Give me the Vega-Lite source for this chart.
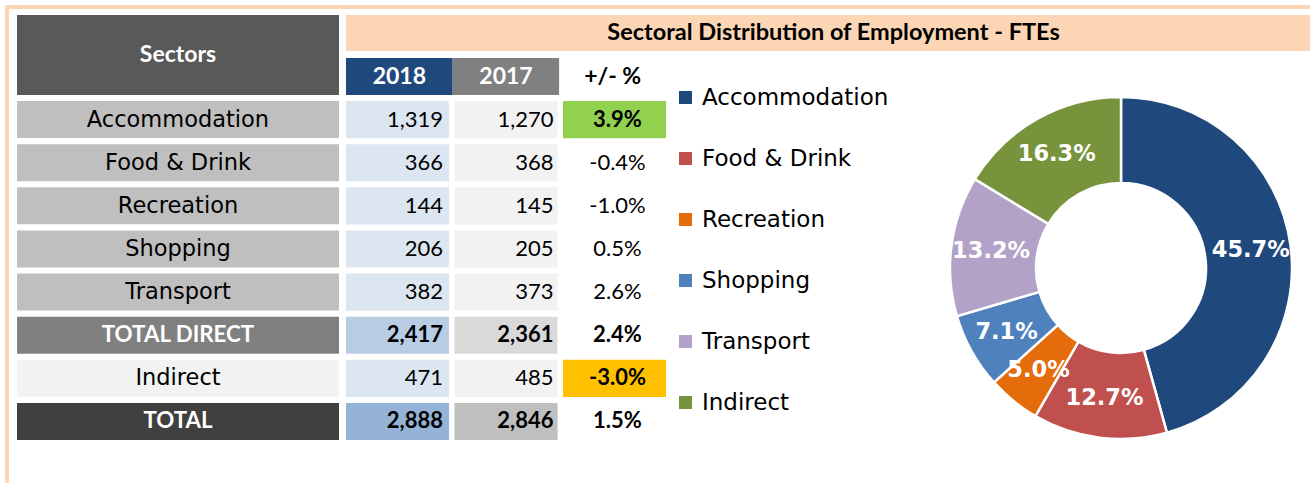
{
  "$schema": "https://vega.github.io/schema/vega-lite/v6.json",
  "background": "white",
  "padding": {"left": 5, "top": 5, "right": 0, "bottom": 0},
  "config": {
    "view": {"stroke": null},
    "font": "Lato",
    "locale": {"number": {"decimal": ".", "thousands": ",", "grouping": [3], "currency": ["$", ""], "minus": "-"}}
  },
  "datasets": {
    "rows": [
      {"sector": "Accommodation", "kind": "sector", "ord": 1, "v2018": 1319, "v2017": 1270, "change": 0.039, "share": 0.457},
      {"sector": "Food & Drink", "kind": "sector", "ord": 2, "v2018": 366, "v2017": 368, "change": -0.004, "share": 0.127},
      {"sector": "Recreation", "kind": "sector", "ord": 3, "v2018": 144, "v2017": 145, "change": -0.010, "share": 0.050},
      {"sector": "Shopping", "kind": "sector", "ord": 4, "v2018": 206, "v2017": 205, "change": 0.005, "share": 0.071},
      {"sector": "Transport", "kind": "sector", "ord": 5, "v2018": 382, "v2017": 373, "change": 0.026, "share": 0.132},
      {"sector": "TOTAL DIRECT", "kind": "direct", "ord": 6, "v2018": 2417, "v2017": 2361, "change": 0.024},
      {"sector": "Indirect", "kind": "indirect", "ord": 7, "v2018": 471, "v2017": 485, "change": -0.030, "share": 0.163},
      {"sector": "TOTAL", "kind": "total", "ord": 8, "v2018": 2888, "v2017": 2846, "change": 0.015}
    ],
    "headers": [
      {"col": "2018", "label": "2018"},
      {"col": "2017", "label": "2017"},
      {"col": "chg", "label": "+/- %"}
    ]
  },
  "spacing": 0,
  "resolve": {"scale": {"color": "independent"}, "legend": {"color": "independent"}},
  "vconcat": [
    {
      "width": 1305,
      "height": 4,
      "data": {"values": [{"part": "frame"}]},
      "mark": {"type": "rect", "fill": "#FCD5B4"},
      "encoding": {}
    },
    {
      "spacing": 8,
      "resolve": {"scale": {"color": "independent"}, "legend": {"color": "independent"}},
      "hconcat": [
        {
          "width": 4,
          "height": 474,
          "data": {"values": [{"part": "frame"}]},
          "mark": {"type": "rect", "fill": "#FCD5B4"},
          "encoding": {}
        },
        {
          "spacing": 0,
          "resolve": {"scale": {"color": "independent"}, "legend": {"color": "independent"}},
          "vconcat": [
            {
              "width": 1,
              "height": 6,
              "data": {"values": [{"part": "gap"}]},
              "mark": {"type": "rect", "opacity": 0},
              "encoding": {}
            },
            {
              "spacing": 7,
              "resolve": {"scale": {"color": "independent"}, "legend": {"color": "independent"}},
              "hconcat": [
                {
                  "spacing": 6,
                  "vconcat": [
                    {
                      "width": 322,
                      "height": 80,
                      "data": {"values": [{"label": "Sectors"}]},
                      "layer": [
                        {"mark": {"type": "rect", "fill": "#595959"}, "encoding": {}},
                        {"mark": {"type": "text", "fill": "white", "fontWeight": "bold", "fontSize": 23, "font": "Lato"}, "encoding": {"text": {"field": "label"}}}
                      ]
                    },
                    {
                      "width": 322,
                      "height": 339,
                      "data": {"name": "rows"},
                      "encoding": {
                        "y": {"field": "sector", "type": "nominal", "axis": null,
                              "scale": {"domain": ["Accommodation", "Food & Drink", "Recreation", "Shopping", "Transport", "TOTAL DIRECT", "Indirect", "TOTAL"], "paddingInner": 0.14, "paddingOuter": 0}}
                      },
                      "layer": [
                        {
                          "mark": {"type": "rect"},
                          "encoding": {
                            "fill": {"condition": [
                              {"test": "datum.kind === 'direct'", "value": "#808080"},
                              {"test": "datum.kind === 'indirect'", "value": "#F2F2F2"},
                              {"test": "datum.kind === 'total'", "value": "#404040"}
                            ], "value": "#BFBFBF"}
                          }
                        },
                        {
                          "transform": [{"filter": "datum.kind === 'sector' || datum.kind === 'indirect'"}],
                          "mark": {"type": "text", "font": "DejaVu Sans", "fontSize": 22.5, "fill": "black"},
                          "encoding": {"text": {"field": "sector"}}
                        },
                        {
                          "transform": [{"filter": "datum.kind === 'direct' || datum.kind === 'total'"}],
                          "mark": {"type": "text", "font": "Lato", "fontWeight": "bold", "fontSize": 22.3, "fill": "white"},
                          "encoding": {"text": {"field": "sector"}}
                        }
                      ]
                    }
                  ]
                },
                {
                  "spacing": 7,
                  "resolve": {"scale": {"color": "independent"}, "legend": {"color": "independent"}},
                  "vconcat": [
                    {
                      "width": 965,
                      "height": 36,
                      "data": {"values": [{"title": "Sectoral Distribution of Employment - FTEs"}]},
                      "layer": [
                        {"mark": {"type": "rect", "fill": "#FCD5B4"}, "encoding": {}},
                        {"mark": {"type": "text", "fill": "black", "fontWeight": "bold", "fontSize": 23.5, "font": "Lato", "dx": 5}, "encoding": {"text": {"field": "title"}}}
                      ]
                    },
                    {
                      "spacing": 8,
                      "resolve": {"scale": {"color": "independent"}, "legend": {"color": "independent"}},
                      "hconcat": [
                        {
                          "width": 320,
                          "height": 382,
                          "data": {"name": "rows"},
                          "resolve": {"scale": {"x": "independent"}},
                          "layer": [
                            {
                              "data": {"name": "headers"},
                              "resolve": {"scale": {"x": "shared"}},
                              "layer": [
                                {
                                  "mark": {"type": "rect"},
                                  "encoding": {
                                    "x": {"field": "col", "type": "nominal", "axis": null, "scale": {"domain": ["2018", "2017", "chg"], "paddingInner": 0, "paddingOuter": 0}},
                                    "y": {"datum": "header", "type": "nominal", "axis": null, "scale": {"domain": ["header", "Accommodation", "Food & Drink", "Recreation", "Shopping", "Transport", "TOTAL DIRECT", "Indirect", "TOTAL"], "paddingInner": 0.14, "paddingOuter": 0}},
                                    "fill": {"condition": [
                                      {"test": "datum.col === '2018'", "value": "#1F497D"},
                                      {"test": "datum.col === '2017'", "value": "#808080"}
                                    ], "value": "white"}
                                  }
                                },
                                {
                                  "mark": {"type": "text", "fontWeight": "bold", "fontSize": 23, "font": "Lato"},
                                  "encoding": {
                                    "x": {"field": "col", "type": "nominal", "axis": null},
                                    "y": {"datum": "header", "type": "nominal", "axis": null},
                                    "text": {"field": "label"},
                                    "fill": {"condition": {"test": "datum.col === 'chg'", "value": "black"}, "value": "white"}
                                  }
                                }
                              ]
                            },
                            {
                              "resolve": {"scale": {"x": "shared"}},
                              "layer": [
                                {
                                  "mark": {"type": "rect"},
                                  "encoding": {
                                    "x": {"datum": "2018", "type": "nominal", "axis": null, "scale": {"domain": ["2018", "2017", "chg"], "paddingInner": 0.05, "paddingOuter": 0}},
                                    "y": {"field": "sector", "type": "nominal", "axis": null},
                                    "fill": {"condition": [
                                      {"test": "datum.kind === 'total'", "value": "#95B3D7"},
                                      {"test": "datum.kind === 'direct'", "value": "#B8CCE4"}
                                    ], "value": "#DCE6F1"}
                                  }
                                },
                                {
                                  "mark": {"type": "rect"},
                                  "encoding": {
                                    "x": {"datum": "2017", "type": "nominal", "axis": null},
                                    "y": {"field": "sector", "type": "nominal", "axis": null},
                                    "fill": {"condition": [
                                      {"test": "datum.kind === 'total'", "value": "#BFBFBF"},
                                      {"test": "datum.kind === 'direct'", "value": "#D9D9D9"}
                                    ], "value": "#F2F2F2"}
                                  }
                                },
                                {
                                  "transform": [{"filter": "datum.sector === 'Accommodation' || datum.sector === 'Indirect'"}],
                                  "mark": {"type": "rect"},
                                  "encoding": {
                                    "x": {"datum": "chg", "type": "nominal", "axis": null},
                                    "y": {"field": "sector", "type": "nominal", "axis": null},
                                    "fill": {"condition": {"test": "datum.sector === 'Accommodation'", "value": "#92D050"}, "value": "#FFC000"}
                                  }
                                },
                                {
                                  "transform": [{"filter": "datum.kind === 'sector' || datum.kind === 'indirect'"}],
                                  "mark": {"type": "text", "align": "right", "dx": -6, "fontSize": 22, "font": "Lato", "fill": "black"},
                                  "encoding": {
                                    "x": {"datum": "2018", "type": "nominal", "axis": null, "bandPosition": 1},
                                    "y": {"field": "sector", "type": "nominal", "axis": null},
                                    "text": {"field": "v2018", "type": "quantitative", "format": ","}
                                  }
                                },
                                {
                                  "transform": [{"filter": "datum.kind === 'direct' || datum.kind === 'total'"}],
                                  "mark": {"type": "text", "align": "right", "dx": -6, "fontSize": 22, "font": "Lato", "fontWeight": "bold", "fill": "black"},
                                  "encoding": {
                                    "x": {"datum": "2018", "type": "nominal", "axis": null, "bandPosition": 1},
                                    "y": {"field": "sector", "type": "nominal", "axis": null},
                                    "text": {"field": "v2018", "type": "quantitative", "format": ","}
                                  }
                                },
                                {
                                  "transform": [{"filter": "datum.kind === 'sector' || datum.kind === 'indirect'"}],
                                  "mark": {"type": "text", "align": "right", "dx": -4, "fontSize": 22, "font": "Lato", "fill": "black"},
                                  "encoding": {
                                    "x": {"datum": "2017", "type": "nominal", "axis": null, "bandPosition": 1},
                                    "y": {"field": "sector", "type": "nominal", "axis": null},
                                    "text": {"field": "v2017", "type": "quantitative", "format": ","}
                                  }
                                },
                                {
                                  "transform": [{"filter": "datum.kind === 'direct' || datum.kind === 'total'"}],
                                  "mark": {"type": "text", "align": "right", "dx": -4, "fontSize": 22, "font": "Lato", "fontWeight": "bold", "fill": "black"},
                                  "encoding": {
                                    "x": {"datum": "2017", "type": "nominal", "axis": null, "bandPosition": 1},
                                    "y": {"field": "sector", "type": "nominal", "axis": null},
                                    "text": {"field": "v2017", "type": "quantitative", "format": ","}
                                  }
                                },
                                {
                                  "transform": [{"filter": "datum.kind === 'sector' && datum.sector !== 'Accommodation'"}],
                                  "mark": {"type": "text", "align": "center", "dx": 3, "fontSize": 22, "font": "Lato", "fill": "black"},
                                  "encoding": {
                                    "x": {"datum": "chg", "type": "nominal", "axis": null},
                                    "y": {"field": "sector", "type": "nominal", "axis": null},
                                    "text": {"field": "change", "type": "quantitative", "format": ".1%"}
                                  }
                                },
                                {
                                  "transform": [{"filter": "datum.kind !== 'sector' || datum.sector === 'Accommodation'"}],
                                  "mark": {"type": "text", "align": "center", "dx": 3, "fontSize": 22, "font": "Lato", "fontWeight": "bold", "fill": "black"},
                                  "encoding": {
                                    "x": {"datum": "chg", "type": "nominal", "axis": null},
                                    "y": {"field": "sector", "type": "nominal", "axis": null},
                                    "text": {"field": "change", "type": "quantitative", "format": ".1%"}
                                  }
                                }
                              ]
                            }
                          ]
                        },
                        {
                          "width": 356,
                          "height": 420,
                          "data": {"name": "rows"},
                          "transform": [{"filter": "isValid(datum.share)"}],
                          "encoding": {
                            "theta": {"field": "v2018", "type": "quantitative", "stack": true},
                            "order": {"field": "ord", "type": "quantitative"}
                          },
                          "layer": [
                            {
                              "mark": {"type": "arc", "outerRadius": 171, "innerRadius": 85, "stroke": "white", "strokeWidth": 2.5},
                              "encoding": {
                                "color": {
                                  "field": "sector", "type": "nominal",
                                  "scale": {"domain": ["Accommodation", "Food & Drink", "Recreation", "Shopping", "Transport", "Indirect"],
                                            "range": ["#1F497D", "#C0504D", "#E46C0A", "#4F81BD", "#B3A2C7", "#77933C"]},
                                  "legend": {"title": null, "orient": "none", "legendX": -269, "legendY": 28, "symbolType": "square", "symbolSize": 169, "symbolStrokeWidth": 0,
                                             "labelFont": "DejaVu Sans", "labelFontSize": 23, "labelColor": "black", "rowPadding": 37, "labelOffset": 5, "labelLimit": 400}
                                }
                              }
                            },
                            {
                              "mark": {"type": "text", "radius": 131, "fill": "white", "fontWeight": "bold", "fontSize": 22.5, "font": "DejaVu Sans"},
                              "encoding": {"text": {"field": "share", "type": "quantitative", "format": ".1%"}}
                            }
                          ]
                        }
                      ]
                    }
                  ]
                }
              ]
            }
          ]
        }
      ]
    }
  ]
}
